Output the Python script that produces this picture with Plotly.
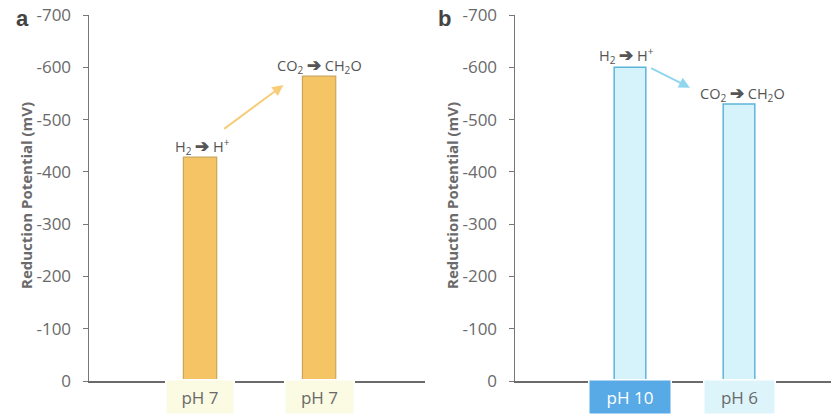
import plotly.graph_objects as go

# ---- data ----
cats_a = ["pH 7 (H2)", "pH 7 (CO2)"]
vals_a = [-428, -583]
labels_a = ["pH 7", "pH 7"]
cats_b = ["pH 10 (H2)", "pH 6 (CO2)"]
vals_b = [-600, -530]
labels_b = ["pH 10", "pH 6"]
reaction_labels = ["H<sub>2</sub> <span style='font-size:17px'><b>➔</b></span> H<sup>+</sup>",
                   "CO<sub>2</sub> <span style='font-size:17px'><b>➔</b></span> CH<sub>2</sub>O"]
y_ticks = [0, -100, -200, -300, -400, -500, -600, -700]

# page body margin is removed by post_script, so the figure fills the 831x414 window
W, H = 831, 414
FONT = "Open Sans"
GRAY = "#6a6a6a"


def px_x(p):
    return p / W


def px_y(p):
    return (H - p) / H


fig = go.Figure()
fig.add_trace(go.Bar(x=[0, 1], y=vals_a, width=0.28, xaxis="x", yaxis="y",
                     marker=dict(color="#F5C465", line=dict(color="#C9A65C", width=1.2)),
                     showlegend=False, hoverinfo="skip"))
fig.add_trace(go.Bar(x=[0, 1], y=vals_b, width=0.29, xaxis="x2", yaxis="y2",
                     marker=dict(color="#D6F2FA", line=dict(color="#5DB5DA", width=1.5)),
                     showlegend=False, hoverinfo="skip"))

ydom = [px_y(381), px_y(15)]
yax = dict(range=[0, -700], tickvals=y_ticks, ticktext=[str(v) for v in y_ticks],
           showline=True, linecolor="#777777", linewidth=1.5, ticks="outside", ticklen=5,
           tickcolor="#777777", tickfont=dict(family=FONT, size=17, color=GRAY),
           ticklabelstandoff=8, ticklabeloverflow="allow",
           showgrid=False, zeroline=False, domain=ydom, fixedrange=True, automargin=False)
xax = dict(showline=True, linecolor="#6a6a6a", linewidth=2, showticklabels=False,
           ticks="", showgrid=False, zeroline=False, fixedrange=True, automargin=False)

fig.update_layout(
    template="none",
    width=W, height=H, margin=dict(l=0, r=0, t=0, b=0, autoexpand=False),
    paper_bgcolor="white", plot_bgcolor="white",
    xaxis=dict(xax, domain=[px_x(89), px_x(425)], range=[-0.933, 1.89], anchor="y"),
    yaxis=dict(yax, anchor="x"),
    xaxis2=dict(xax, domain=[px_x(515), 1.0], range=[-1.055, 1.844], anchor="y2"),
    yaxis2=dict(yax, anchor="x2"),
    bargap=0,
    hovermode=False,
)

ann = []
# bottom category boxes
box_specs = [("x", "y", labels_a, ["#FBFAE2", "#FBFAE2"], [GRAY, GRAY], [67, 68]),
             ("x2", "y2", labels_b, ["#58AAE6", "#DDF5FA"], ["white", GRAY], [81, 70])]
for xr, yr, labs, bgs, fcs, ws in box_specs:
    for i, lab in enumerate(labs):
        ann.append(dict(x=i, y=0, xref=xr, yref=yr, text=lab, showarrow=False,
                        xanchor="center", yanchor="top", yshift=2, width=ws[i], height=33,
                        bgcolor=bgs[i], bordercolor="white", borderwidth=1.5, borderpad=0,
                        font=dict(family=FONT, size=17, color=fcs[i])))
# reaction labels
txt_font = dict(family=FONT, size=14.5, color="#555555")
ann += [
    dict(x=0.02, y=vals_a[0] - 22, xref="x", yref="y", text=reaction_labels[0], showarrow=False, font=txt_font),
    dict(x=1.0, y=vals_a[1] - 21, xref="x", yref="y", text=reaction_labels[1], showarrow=False, font=txt_font),
    dict(x=-0.03, y=vals_b[0] - 24, xref="x2", yref="y2", text=reaction_labels[0], showarrow=False, font=txt_font),
    dict(x=1.03, y=vals_b[1] - 21, xref="x2", yref="y2", text=reaction_labels[1], showarrow=False, font=txt_font),
]
# transition arrows
ann.append(dict(x=0.70, y=vals_a[1] + 17, ax=0.19, ay=vals_a[0] - 52, xref="x", yref="y",
                axref="x", ayref="y", text="", showarrow=True, arrowhead=2, arrowsize=1.1,
                arrowwidth=2, arrowcolor="#F8CC78"))
ann.append(dict(x=0.55, y=vals_b[1] - 31, ax=0.18, ay=vals_b[0], xref="x2", yref="y2",
                axref="x2", ayref="y2", text="", showarrow=True, arrowhead=2, arrowsize=1.1,
                arrowwidth=2, arrowcolor="#8FD6EE"))
# panel letters
for xp, letter in [(px_x(22), "a"), (px_x(444), "b")]:
    ann.append(dict(x=xp, y=px_y(19), xref="paper", yref="paper", text=f"<b>{letter}</b>",
                    showarrow=False, xanchor="center", yanchor="middle",
                    font=dict(family="Liberation Sans", size=22, color="#444444")))
# y titles
for xp in [px_x(26), px_x(452)]:
    ann.append(dict(x=xp, y=px_y(196), xref="paper", yref="paper",
                    text="<b>Reduction Potential (mV)</b>", textangle=-90, showarrow=False,
                    xanchor="center", yanchor="middle",
                    font=dict(family=FONT, size=15, color=GRAY)))
fig.update_layout(annotations=ann)

fig.write_html("out.html", config={"displayModeBar": False, "staticPlot": True},
               post_script="document.body.style.margin='0';document.body.style.overflow='hidden';")
